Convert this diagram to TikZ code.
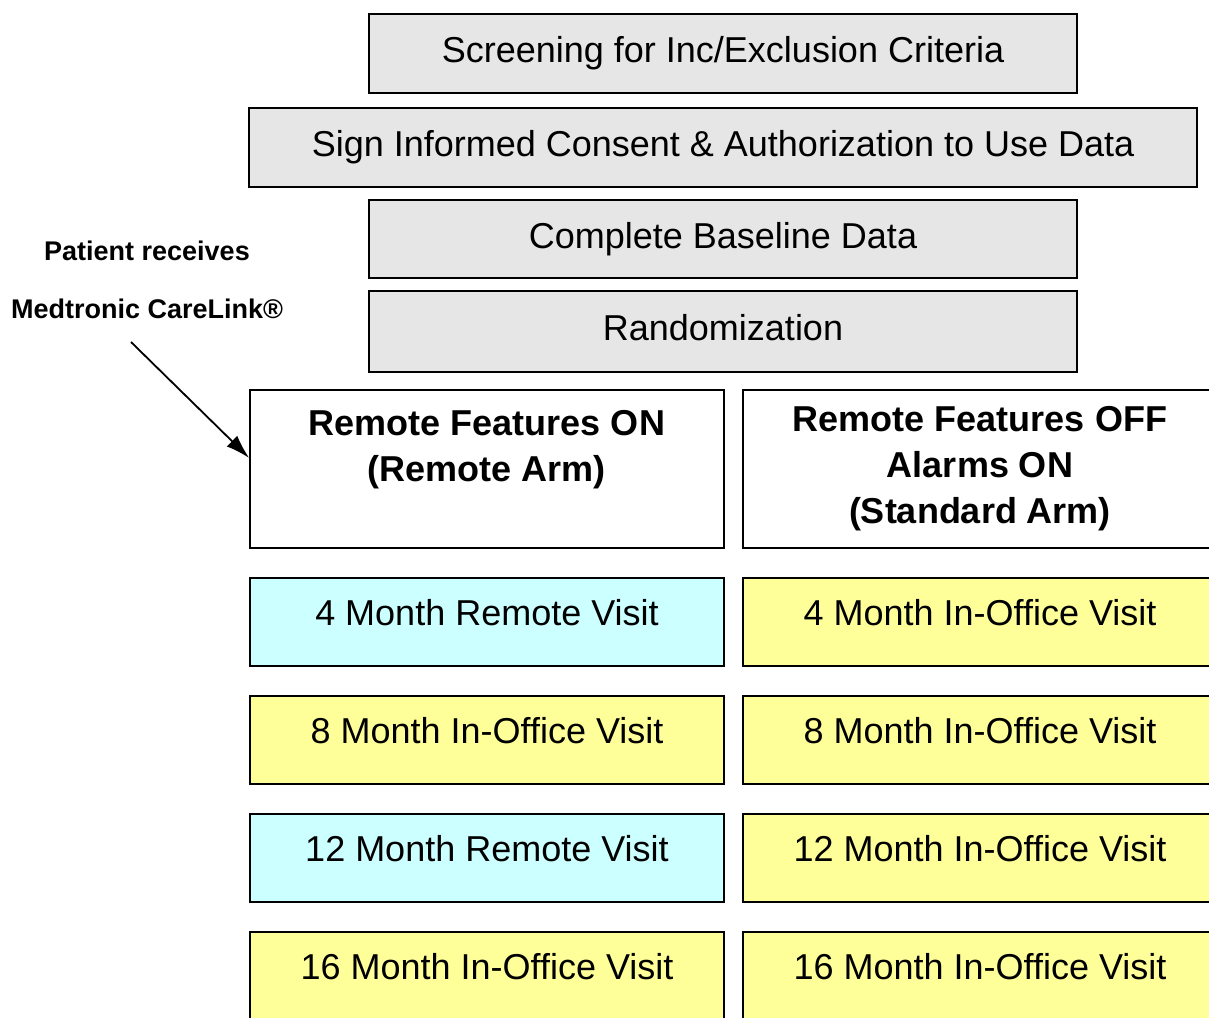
\documentclass[tikz,border=0pt]{standalone}
\usepackage{fontspec}
\setmainfont{Liberation Sans}
\usetikzlibrary{positioning,arrows.meta}
\definecolor{stepgrey}{HTML}{E6E6E6}
\definecolor{remotecyan}{HTML}{CCFFFF}
\definecolor{officeyellow}{HTML}{FFFF99}
\tikzset{
  greybox/.style={draw, line width=1.6pt, fill=stepgrey, minimum width=708pt, minimum height=79pt, inner sep=0pt, text height=26pt, text depth=8pt, font=\fontsize{36}{44}\selectfont},
  widebox/.style={greybox, minimum width=948pt},
  armhead/.style={draw, line width=1.6pt, fill=white, minimum width=474pt, minimum height=158pt, align=center, font=\fontsize{36}{46}\selectfont\bfseries},
  visit/.style={draw, line width=1.6pt, minimum width=474pt, minimum height=88pt, inner sep=0pt, text height=26pt, text depth=20pt, font=\fontsize{36}{44}\selectfont},
  remotevisit/.style={visit, fill=remotecyan},
  officevisit/.style={visit, fill=officeyellow},
  note/.style={align=center, inner sep=0pt, font=\fontsize{27}{58}\selectfont\bfseries},
  pointer/.style={line width=1.8pt, -{Latex[length=24pt,width=15pt]}}
}

\begin{document}
\begin{tikzpicture}[x=1pt,y=-1pt]
  \useasboundingbox (0,0) rectangle (1209,1017);
  \clip (0,0) rectangle (1209,1017);
  % steps before randomization
  \node[greybox] (screen) at (723,53.5) {Screening for Inc/Exclusion Criteria};
  \node[widebox, below=13.4pt of screen] (consent) {Sign Informed Consent \& Authorization to Use Data};
  \node[greybox, below=11.4pt of consent, minimum height=78pt] (baseline) {Complete Baseline Data};
  \node[greybox, below=11.4pt of baseline, minimum height=81pt] (random) {Randomization};
  % the two arms
  \node[armhead] (remote) at (487,469) {Remote Features ON\\(Remote Arm)\\ \mbox{}};
  \node[armhead, right=17.4pt of remote] (standard) {Remote Features OFF\\Alarms ON\\(Standard Arm)};
  \node[remotevisit, below=28.4pt of remote] (rfour) {4 Month Remote Visit};
  \node[officevisit, below=28.4pt of rfour] (reight) {8 Month In-Office Visit};
  \node[remotevisit, below=28.4pt of reight] (rtwelve) {12 Month Remote Visit};
  \node[officevisit, below=28.4pt of rtwelve] (rsixteen) {16 Month In-Office Visit};
  \node[officevisit, below=28.4pt of standard] (sfour) {4 Month In-Office Visit};
  \node[officevisit, below=28.4pt of sfour] (seight) {8 Month In-Office Visit};
  \node[officevisit, below=28.4pt of seight] (stwelve) {12 Month In-Office Visit};
  \node[officevisit, below=28.4pt of stwelve] (ssixteen) {16 Month In-Office Visit};
  % annotation
  \node[note] (patient) at (147,280) {Patient receives\\Medtronic CareLink®};
  \coordinate (tail) at (131,342);
  \draw[pointer] (tail) -- ([yshift=11pt]remote.west);
\end{tikzpicture}
\end{document}
